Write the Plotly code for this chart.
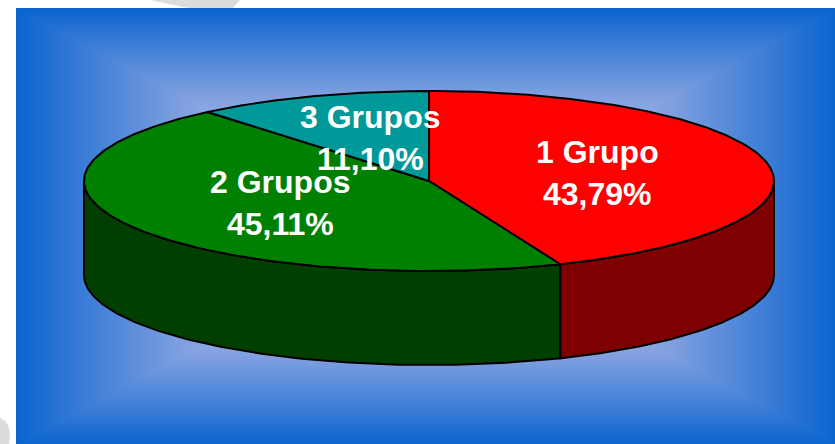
import numpy as np
import plotly.graph_objects as go

# Data
categories = ["1 Grupo", "2 Grupos", "3 Grupos"]
percentages = [43.79, 45.11, 11.10]
percent_labels = ["43,79%", "45,11%", "11,10%"]

# Styling
top_colors = ["#ff0000", "#008000", "#009999"]
side_colors = ["#7f0000", "#003f00", "#004d4d"]
label_centers = [(597, 152), (280, 182), (370, 117)]
LINE_GAP = 42
CX, CY, RX, RY, DEPTH = 429, 181, 345, 90, 94
PANEL_X = (16, 835)
PANEL_Y = (8, 444)

fig = go.Figure()

# Background: rectangular gradient on the panel (cell centres inset so that the
# cells' outer edges land exactly on the panel edges)
NX, NY = 273, 146
dx = (PANEL_X[1] - PANEL_X[0]) / NX
dy = (PANEL_Y[1] - PANEL_Y[0]) / NY
gx = PANEL_X[0] + dx * (np.arange(NX) + 0.5)
gy = PANEL_Y[0] + dy * (np.arange(NY) + 0.5)
mx, my = sum(PANEL_X) / 2, sum(PANEL_Y) / 2
hx, hy = (PANEL_X[1] - PANEL_X[0]) / 2, (PANEL_Y[1] - PANEL_Y[0]) / 2
XX, YY = np.meshgrid(gx, gy)
Z = np.maximum(np.abs(XX - mx) / hx, np.abs(YY - my) / hy)
fig.add_trace(go.Heatmap(
    x=gx, y=gy, z=Z, zmin=0, zmax=1, zsmooth="best", showscale=False, hoverinfo="skip",
    colorscale=[[0, "#e8eefa"], [0.6, "#7f9fdf"], [1, "#0a64cf"]],
))


def px_point(theta, drop=0.0):
    return CX + RX * np.sin(theta), CY - RY * np.cos(theta) + drop


# Slice angles from the data (clockwise from 12 o'clock)
fractions = np.array(percentages) / sum(percentages)
edges = np.concatenate([[0], np.cumsum(fractions)]) * 2 * np.pi

# Visible side walls (front half of the ellipse)
for i in range(len(categories)):
    a0 = max(edges[i], np.pi / 2)
    a1 = min(edges[i + 1], 3 * np.pi / 2)
    if a1 <= a0:
        continue
    t = np.linspace(a0, a1, 120)
    x1, y1 = px_point(t)
    x2, y2 = px_point(t[::-1], DEPTH)
    fig.add_trace(go.Scatter(
        x=np.concatenate([x1, x2, x1[:1]]), y=np.concatenate([y1, y2, y1[:1]]),
        mode="lines", fill="toself", fillcolor=side_colors[i],
        line=dict(color="black", width=2), hoverinfo="skip", showlegend=False,
    ))

# Top face
for i in range(len(categories)):
    t = np.linspace(edges[i], edges[i + 1], 200)
    x1, y1 = px_point(t)
    fig.add_trace(go.Scatter(
        x=np.concatenate([[CX], x1, [CX]]), y=np.concatenate([[CY], y1, [CY]]),
        mode="lines", fill="toself", fillcolor=top_colors[i],
        line=dict(color="black", width=2), name=categories[i], showlegend=False,
    ))

# Labels
annotations = []
for name, pct, (lx, ly) in zip(categories, percent_labels, label_centers):
    for text, yy in ((name, ly), (pct, ly + LINE_GAP)):
        annotations.append(dict(
            x=lx, y=yy, xref="x", yref="y", text=f"<b>{text}</b>", showarrow=False,
            xanchor="center", yanchor="middle",
            font=dict(family="Liberation Sans", size=32, color="white"),
        ))

# Faint grey remnants around the panel
shapes = [
    dict(type="path", path="M 150 0 L 240 0 L 233 8 L 188 8 Z", fillcolor="#dcdcdc",
         line=dict(width=0), layer="below"),
    dict(type="path", path="M 0 418 Q 10 422 10 436 L 9 444 L 0 444 Z", fillcolor="#dcdcdc",
         line=dict(width=0), layer="below"),
]

fig.update_layout(
    width=835, height=444, margin=dict(l=0, r=0, t=0, b=0),
    paper_bgcolor="white", plot_bgcolor="white", showlegend=False,
    xaxis=dict(range=[0, 835], visible=False, fixedrange=True),
    yaxis=dict(range=[444, 0], visible=False, fixedrange=True),
    annotations=annotations, shapes=shapes,
)

fig.write_html("out.html", config={"displayModeBar": False},
               post_script="document.body.style.margin='0';document.body.style.overflow='hidden';")
